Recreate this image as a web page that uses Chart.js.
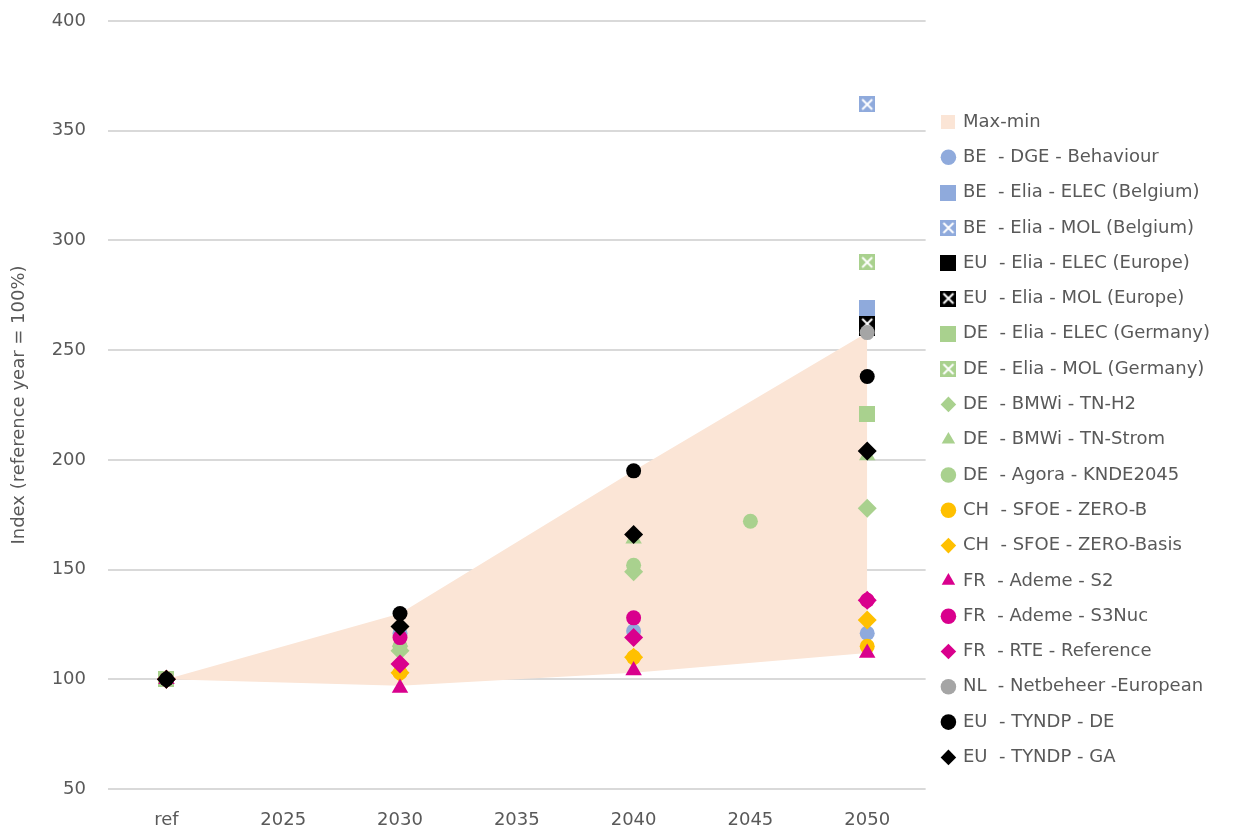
<!DOCTYPE html>
<html>
<head>
<meta charset="utf-8">
<script src="https://cdn.jsdelivr.net/npm/chart.js@4/dist/chart.umd.min.js"></script>
<style>
  body { margin: 0; background: #fff; }
  #wrap { width: 1233px; height: 831px; }
</style>
</head>
<body>
<div id="wrap"><canvas id="indexChart"></canvas></div>
<script>
/*
  Data
*/
var years = ['ref', '2025', '2030', '2035', '2040', '2045', '2050'];
var yTicks = [50, 100, 150, 200, 250, 300, 350, 400];

var rangeMax = [100, null, 130, null, 195, null, 258];
var rangeMin = [100, null, 97, null, 103, null, 112];

var beDge = [100, null, 121, null, 122, null, 121];
var beEliaElec = [100, null, null, null, null, null, 269];
var beEliaMol = [100, null, null, null, null, null, 362];
var euEliaElec = [100, null, null, null, null, null, 260];
var euEliaMol = [100, null, null, null, null, null, 262];
var deEliaElec = [100, null, null, null, null, null, 221];
var deEliaMol = [100, null, null, null, null, null, 290];
var deTnH2 = [100, null, 113, null, 149, null, 178];
var deTnStrom = [100, null, 117, null, 164, null, 202];
var deAgora = [100, null, 115, null, 152, 172, null];
var chZeroB = [100, null, 103, null, 110, null, 115];
var chZeroBasis = [100, null, 103, null, 110, null, 127];
var frS2 = [100, null, 96, null, 104, null, 112];
var frS3Nuc = [100, null, 119, null, 128, null, 136];
var frRte = [100, null, 107, null, 119, null, 136];
var nlNetbeheer = [100, null, null, null, null, null, 258];
var euTyndpDe = [100, null, 130, null, 195, null, 238];
var euTyndpGa = [100, null, 124, null, 166, null, 204];

var blue = '#8faadc';
var black = '#000000';
var green = '#a9d18e';
var orange = '#ffc000';
var magenta = '#d9008d';
var grey = '#a5a5a5';
var peach = '#fbe5d6';
var textGrey = '#595959';
var font = "'DejaVu Sans', 'Open Sans', sans-serif";

// square marker, optionally with a white cross
var squareMarker = (color, cross, size) => {
  var c = document.createElement('canvas');
  c.width = size;
  c.height = size;
  var ctx = c.getContext('2d');
  ctx.fillStyle = color;
  ctx.fillRect(0, 0, size, size);
  if (cross) {
    ctx.strokeStyle = '#ffffff';
    ctx.lineWidth = 2;
    ctx.beginPath();
    ctx.moveTo(3, 3); ctx.lineTo(size - 3, size - 3);
    ctx.moveTo(size - 3, 3); ctx.lineTo(3, size - 3);
    ctx.stroke();
  }
  return c;
};

var radiusFor = { circle: 7.5, rectRot: 9.5, triangle: 9.5 };

var series = (label, data, color, style) => {
  var isImg = typeof style !== 'string';
  return {
    label: label,
    data: data,
    showLine: false,
    borderWidth: 0,
    pointBorderWidth: 0,
    backgroundColor: color,
    borderColor: color,
    pointStyle: style,
    pointRadius: isImg ? 8 : radiusFor[style],
    pointHoverRadius: isImg ? 8 : radiusFor[style]
  };
};

var markerSets = [
  series('BE  - DGE - Behaviour', beDge, blue, 'circle'),
  series('BE  - Elia - ELEC (Belgium)', beEliaElec, blue, squareMarker(blue, false, 16)),
  series('BE  - Elia - MOL (Belgium)', beEliaMol, blue, squareMarker(blue, true, 16)),
  series('EU  - Elia - ELEC (Europe)', euEliaElec, black, squareMarker(black, false, 16)),
  series('EU  - Elia - MOL (Europe)', euEliaMol, black, squareMarker(black, true, 16)),
  series('DE  - Elia - ELEC (Germany)', deEliaElec, green, squareMarker(green, false, 16)),
  series('DE  - Elia - MOL (Germany)', deEliaMol, green, squareMarker(green, true, 16)),
  series('DE  - BMWi - TN-H2', deTnH2, green, 'rectRot'),
  series('DE  - BMWi - TN-Strom', deTnStrom, green, 'triangle'),
  series('DE  - Agora - KNDE2045', deAgora, green, 'circle'),
  series('CH  - SFOE - ZERO-B', chZeroB, orange, 'circle'),
  series('CH  - SFOE - ZERO-Basis', chZeroBasis, orange, 'rectRot'),
  series('FR  - Ademe - S2', frS2, magenta, 'triangle'),
  series('FR  - Ademe - S3Nuc', frS3Nuc, magenta, 'circle'),
  series('FR  - RTE - Reference', frRte, magenta, 'rectRot'),
  series('NL  - Netbeheer -European', nlNetbeheer, grey, 'circle'),
  series('EU  - TYNDP - DE', euTyndpDe, black, 'circle'),
  series('EU  - TYNDP - GA', euTyndpGa, black, 'rectRot')
];
// later series sit on top, like the original
markerSets.forEach((ds, i) => { ds.order = 50 - i; });

var datasets = [
  {
    label: 'Max-min',
    data: rangeMax,
    fill: '+1',
    backgroundColor: peach,
    borderColor: peach,
    borderWidth: 0,
    pointRadius: 0,
    pointStyle: squareMarker(peach, false, 14),
    spanGaps: true,
    order: 100
  },
  {
    label: '_min',
    data: rangeMin,
    fill: false,
    borderWidth: 0,
    borderColor: peach,
    pointRadius: 0,
    spanGaps: true,
    order: 100
  }
].concat(markerSets);

var indexChart = new Chart(document.getElementById('indexChart'), {
  type: 'line',
  data: {
    labels: years,
    datasets: datasets
  },
  options: {
    responsive: true,
    maintainAspectRatio: false,
    animation: false,
    layout: { padding: { top: 0, right: 13, bottom: 0, left: 0 } },
    plugins: {
      tooltip: { enabled: false },
      legend: {
        position: 'right',
        align: 'start',
        title: { display: true, text: '', font: { size: 10, lineHeight: 1 }, padding: { top: 85.7, bottom: 0 } },
        labels: {
          usePointStyle: true,
          boxWidth: 11,
          boxHeight: 11,
          padding: 17.3,
          color: textGrey,
          font: { family: font, size: 18 },
          filter: (item) => item.text !== '_min',
          sort: (a, b) => a.datasetIndex - b.datasetIndex
        }
      }
    },
    scales: {
      x: {
        type: 'category',
        offset: true,
        grid: { display: false, drawTicks: false },
        border: { display: false },
        ticks: { color: textGrey, padding: 21, font: { family: font, size: 18 }, maxRotation: 0 },
        afterFit: (scale) => { scale.height = 42; }
      },
      y: {
        min: 50,
        max: 400,
        afterBuildTicks: (scale) => { scale.ticks = yTicks.map(v => ({ value: v })); },
        grid: { color: '#d9d9d9', lineWidth: 2, drawTicks: false },
        border: { display: false },
        ticks: { color: textGrey, padding: 22, font: { family: font, size: 18 } },
        title: {
          display: true,
          text: 'Index (reference year = 100%)',
          color: textGrey,
          font: { family: font, size: 18 },
          padding: { top: 9, bottom: 0 }
        },
        afterFit: (scale) => {
          scale.width = 108;
          scale.paddingTop = 21;
          scale.paddingBottom = 0;
        }
      }
    }
  }
});
</script>
</body>
</html>
